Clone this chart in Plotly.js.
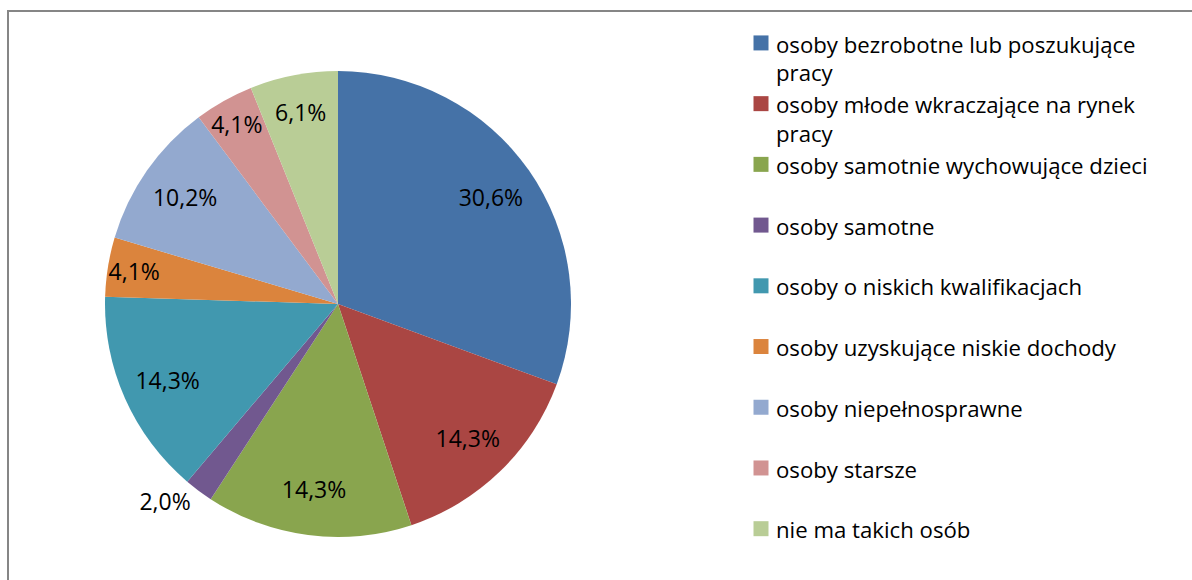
<!DOCTYPE html>
<html>
<head>
<meta charset="utf-8">
<script src="https://cdn.plot.ly/plotly-3.0.1.min.js"></script>
<style>
  html, body { margin: 0; padding: 0; background: #fff; }
  #chart { width: 1192px; height: 580px; }
  #chart .legend path.legendpie { transform: translate(25px, -1px) scale(1.25); }
</style>
</head>
<body>
<div id="chart"></div>
<script>
const categories = [
  "osoby bezrobotne lub poszukujące<br>pracy",
  "osoby młode wkraczające na rynek<br>pracy",
  "osoby samotnie wychowujące dzieci<br> ",
  "osoby samotne<br> ",
  "osoby o niskich kwalifikacjach<br> ",
  "osoby uzyskujące niskie dochody<br> ",
  "osoby niepełnosprawne<br> ",
  "osoby starsze<br> ",
  "nie ma takich osób<br> "
];
const shares = [30.6, 14.3, 14.3, 2.0, 14.3, 4.1, 10.2, 4.1, 6.1];
const colors = ["#4572A7", "#AA4643", "#89A54E", "#71588F", "#4198AF",
                "#DB843D", "#93A9CF", "#D19392", "#B9CD96"];
const textPositions = ["inside", "inside", "inside", "outside", "inside",
                       "inside", "inside", "inside", "inside"];

const W = 1192, H = 580;
const cx = 338, cy = 304, R = 233;
const FONT = "'Open Sans', 'Noto Sans', sans-serif";
const LABEL_SIZE = 23;
const domain = {
  x: [(cx - R) / W, (cx + R) / W],
  y: [(H - cy - R) / H, (H - cy + R) / H]
};

// Slices (no text) — carries the legend
const slices = {
  type: "pie",
  labels: categories,
  values: shares,
  sort: false,
  direction: "clockwise",
  rotation: 0,
  marker: { colors: colors, line: { width: 0 } },
  textinfo: "none",
  hoverinfo: "none",
  domain: domain
};

// Transparent ring on top, used only to place the data labels
const labelsRing = {
  type: "pie",
  labels: categories,
  values: shares,
  sort: false,
  direction: "clockwise",
  rotation: 0,
  hole: 0.6,
  showlegend: false,
  marker: { colors: categories.map(() => "rgba(0,0,0,0)"), line: { width: 0 } },
  texttemplate: "%{value:.1f}%",
  textposition: textPositions,
  insidetextorientation: "horizontal",
  textfont: { family: FONT, size: LABEL_SIZE, color: "#000" },
  hoverinfo: "none",
  domain: domain
};

const layout = {
  width: W, height: H,
  margin: { l: 0, r: 0, t: 0, b: 0 },
  paper_bgcolor: "#fff",
  separators: ", ",
  showlegend: true,
  uniformtext: { minsize: LABEL_SIZE, mode: "show" },
  legend: {
    x: 736 / W, xanchor: "left",
    y: 1 - 24 / H, yanchor: "top",
    valign: "top",
    font: { family: FONT, size: 22.2, color: "#000" },
    bgcolor: "rgba(0,0,0,0)"
  },
  shapes: [{
    type: "rect", xref: "paper", yref: "paper",
    x0: 8 / W, x1: 1.02, y0: -0.02, y1: 1 - 11 / H,
    line: { color: "#868686", width: 2 }
  }]
};

Plotly.newPlot("chart", [slices, labelsRing], layout, { displayModeBar: false, staticPlot: true });
</script>
</body>
</html>
